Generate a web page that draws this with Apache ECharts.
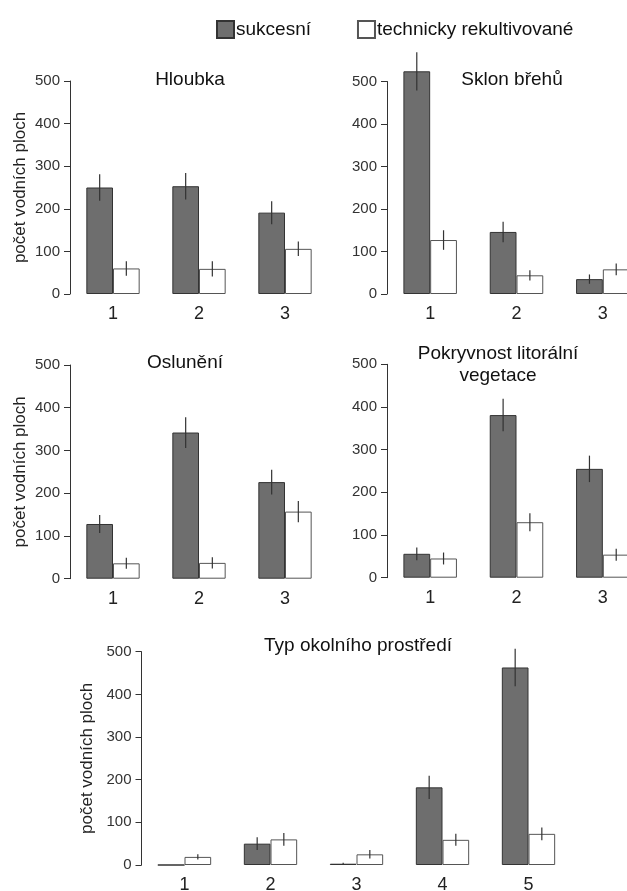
<!DOCTYPE html>
<html>
<head>
<meta charset="utf-8">
<script src="https://cdn.jsdelivr.net/npm/echarts@6/dist/echarts.min.js"></script>
<style>
html,body{margin:0;padding:0;background:#fff;}
#c{width:627px;height:891px;}
</style>
</head>
<body>
<div id="c"></div>
<script>
// ---- data ----
const seriesNames = ['sukcesní', 'technicky rekultivované'];
const yTicks = [0, 100, 200, 300, 400, 500];

const hloubkaCats = ['1', '2', '3'];
const hloubkaS = [250, 253, 191];
const hloubkaSErr = [31, 31, 27];
const hloubkaT = [60, 59, 106];
const hloubkaTErr = [17, 18, 17];

const sklonCats = ['1', '2', '3'];
const sklonS = [524, 146, 35];
const sklonSErr = [45, 24, 11];
const sklonT = [127, 44, 58];
const sklonTErr = [23, 12, 14];

const osluneniCats = ['1', '2', '3'];
const osluneniS = [128, 342, 226];
const osluneniSErr = [21, 36, 29];
const osluneniT = [36, 37, 157];
const osluneniTErr = [13, 13, 25];

const pokryvCats = ['1', '2', '3'];
const pokryvS = [56, 381, 255];
const pokryvSErr = [15, 38, 31];
const pokryvT = [45, 130, 54];
const pokryvTErr = [14, 21, 14];

const typCats = ['1', '2', '3', '4', '5'];
const typS = [0, 50, 3, 182, 463];
const typSErr = [0, 15, 2, 27, 44];
const typT = [19, 60, 25, 59, 73];
const typTErr = [6, 15, 10, 14, 15];

const panels = [
  {title: ['Hloubka'], cats: hloubkaCats, s: hloubkaS, se: hloubkaSErr, t: hloubkaT, te: hloubkaTErr, yName: true,
   grid: {left: 70, top: 81, width: 258, height: 213}, tx: 190, ty: 69},
  {title: ['Sklon břehů'], cats: sklonCats, s: sklonS, se: sklonSErr, t: sklonT, te: sklonTErr, yName: false,
   grid: {left: 387, top: 81.5, width: 259, height: 212.5}, tx: 512, ty: 69},
  {title: ['Oslunění'], cats: osluneniCats, s: osluneniS, se: osluneniSErr, t: osluneniT, te: osluneniTErr, yName: true,
   grid: {left: 70, top: 365, width: 258, height: 213.7}, tx: 185, ty: 352},
  {title: ['Pokryvnost litorální', 'vegetace'], cats: pokryvCats, s: pokryvS, se: pokryvSErr, t: pokryvT, te: pokryvTErr, yName: false,
   grid: {left: 387, top: 364.3, width: 259, height: 213.4}, tx: 498, ty: 343},
  {title: ['Typ okolního prostředí'], cats: typCats, s: typS, se: typSErr, t: typT, te: typTErr, yName: true,
   grid: {left: 141.5, top: 651.7, width: 430, height: 213.3}, tx: 358, ty: 635}
];

const FONT = "'Liberation Sans', Arial, Helvetica, sans-serif";
const BAR = 0.31;
const DARK = '#6e6e6e';

function errRender(side) {
  return function (params, api) {
    const cat = api.value(0), v = api.value(1), e = api.value(2);
    if (!e) return null;
    const c = api.coord([cat, v]);
    const bw = api.size([1, 0])[0] * BAR;
    const x = c[0] + side * bw / 2;
    const top = api.coord([cat, v + e])[1];
    const bot = api.coord([cat, v - e])[1];
    return {type: 'line', shape: {x1: x, y1: top, x2: x, y2: bot},
            style: {stroke: '#333', lineWidth: 1.2}};
  };
}

const grids = [], xAxes = [], yAxes = [], series = [], graphics = [];
panels.forEach((p, i) => {
  grids.push(Object.assign({containLabel: false, outerBoundsMode: 'none'}, p.grid));
  xAxes.push({type: 'category', gridIndex: i, data: p.cats,
    axisLine: {show: false}, axisTick: {show: false},
    axisLabel: {fontSize: 18, color: '#222', fontFamily: FONT, margin: 11}});
  yAxes.push({type: 'value', gridIndex: i, min: yTicks[0], max: yTicks[yTicks.length - 1], interval: 100,
    splitLine: {show: false},
    axisLine: {show: true, lineStyle: {color: '#333', width: 1}},
    axisTick: {show: true, length: 6, lineStyle: {color: '#333'}},
    axisLabel: {fontSize: 15, color: '#333', fontFamily: FONT, margin: 10},
    name: p.yName ? 'počet vodních ploch' : '', nameLocation: 'middle', nameGap: 41, nameRotate: 90,
    nameTextStyle: {fontSize: 17, color: '#222', fontFamily: FONT}});
  series.push({name: seriesNames[0], type: 'bar', xAxisIndex: i, yAxisIndex: i, data: p.s,
    barWidth: (BAR * 100) + '%', barGap: '0%', clip: false,
    itemStyle: {color: DARK, borderColor: '#333', borderWidth: 1}});
  series.push({name: seriesNames[1], type: 'bar', xAxisIndex: i, yAxisIndex: i, data: p.t,
    barWidth: (BAR * 100) + '%', barGap: '0%', clip: false,
    itemStyle: {color: '#ffffff', borderColor: '#555', borderWidth: 1}});
  series.push({type: 'custom', xAxisIndex: i, yAxisIndex: i, clip: false, silent: true,
    renderItem: errRender(-1), encode: {x: 0, y: 1},
    data: p.s.map((v, k) => [k, v, p.se[k]]), z: 5});
  series.push({type: 'custom', xAxisIndex: i, yAxisIndex: i, clip: false, silent: true,
    renderItem: errRender(1), encode: {x: 0, y: 1},
    data: p.t.map((v, k) => [k, v, p.te[k]]), z: 5});
  graphics.push({type: 'text', x: p.tx, y: p.ty,
    style: {text: p.title.join('\n'), font: '19px ' + FONT, fill: '#111',
            textAlign: 'center', textVerticalAlign: 'top', lineHeight: 22}});
});

const chart = echarts.init(document.getElementById('c'), null, {renderer: 'canvas'});
chart.setOption({
  animation: false,
  backgroundColor: '#fff',
  legend: {data: seriesNames, left: 211, top: 15, itemWidth: 17, itemHeight: 17, itemGap: 46,
    icon: 'rect', selectedMode: false,
    textStyle: {fontSize: 19, color: '#111', fontFamily: FONT, padding: [0, 0, 0, -3]}},
  grid: grids, xAxis: xAxes, yAxis: yAxes, series: series, graphic: graphics
});
</script>
</body>
</html>
